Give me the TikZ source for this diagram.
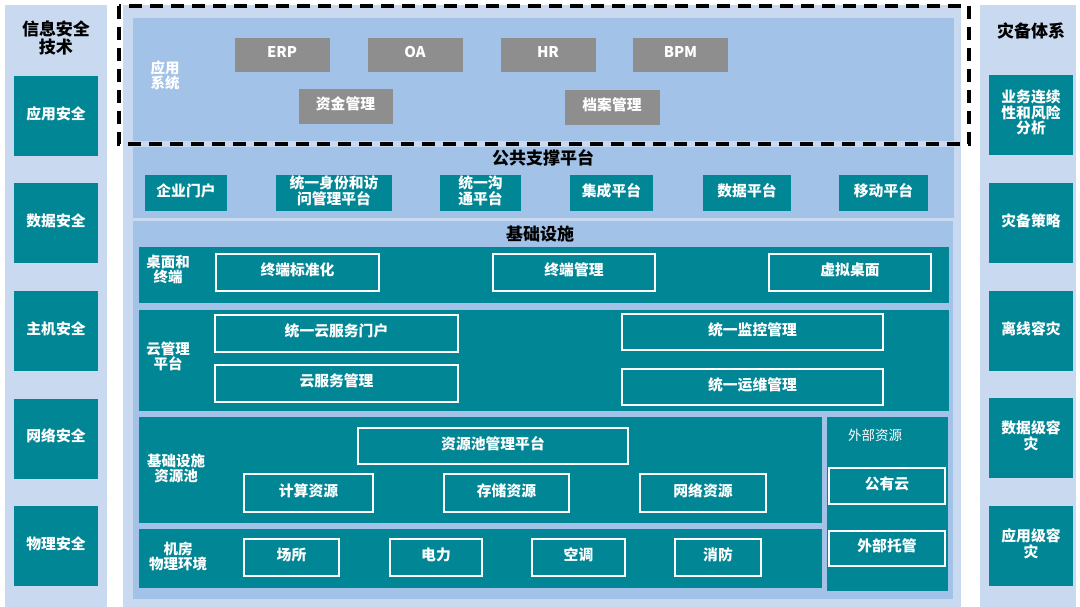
\documentclass[tikz,border=0pt]{standalone}
\usepackage{fontspec}
\setmainfont{Noto Sans CJK SC}
\usepackage{tikz}
\definecolor{panellight}{RGB}{201,218,240}
\definecolor{panelmid}{RGB}{162,194,231}
\definecolor{tealfill}{RGB}{0,134,148}
\definecolor{grayfill}{RGB}{142,142,142}
\tikzset{
  lightpanel/.style={fill=panellight, draw=none},
  midpanel/.style={fill=panelmid, draw=none},
  tealrow/.style={fill=tealfill, draw=none},
  tealbox/.style={fill=tealfill, draw=none, text=white, align=center, inner sep=0pt, text depth=6pt,
    font=\fontsize{14.8}{15.5}\selectfont\bfseries},
  outbox/.style={fill=tealfill, draw=white, line width=1.5pt, text=white, align=center, inner sep=0pt, text depth=6pt,
    font=\fontsize{14.8}{15.5}\selectfont\bfseries},
  graybox/.style={fill=grayfill, draw=panelmid, line width=0.8pt, text=white, inner sep=0pt, text depth=6pt,
    font=\fontsize{14.8}{15.5}\selectfont\bfseries},
  titlelabel/.style={text=black, align=center, inner sep=0pt, font=\fontsize{17}{17.5}\selectfont\bfseries},
  rowlabel/.style={text=white, align=center, inner sep=0pt, font=\fontsize{14.5}{15}\selectfont\bfseries},
  dashframe/.style={draw=black, line width=3.2pt, dash pattern=on 13pt off 8pt},
}

\begin{document}
\begin{tikzpicture}[x=1pt, y=-1pt]
\useasboundingbox (0,0) rectangle (1080,607);
\fill[white] (0,0) rectangle (1080,607);
\fill[lightpanel] (5,5) rectangle (107,607);
\fill[lightpanel] (980,5) rectangle (1076,607);
\fill[lightpanel] (123,5) rectangle (961,607);
\fill[midpanel] (133,18) rectangle (954,141);
\fill[midpanel] (133,147) rectangle (954,218);
\fill[midpanel] (133,221) rectangle (953,599);
\fill[tealrow] (139,247) rectangle (949,303);
\fill[tealrow] (139,310) rectangle (949,411);
\fill[tealrow] (139,417) rectangle (822,523);
\fill[tealrow] (827,417) rectangle (948,591);
\fill[tealrow] (139,529) rectangle (822,588);
\draw[dashframe] (119,6) rectangle (969,144);
\node[titlelabel] (sectitle) at (56,38) {信息安全\\技术};
\node[tealbox, minimum width=84, minimum height=80] (appsec) at (56,116) {应用安全};
\node[tealbox, minimum width=84, minimum height=80] (datasec) at (56,223) {数据安全};
\node[tealbox, minimum width=84, minimum height=80] (hostsec) at (56,331) {主机安全};
\node[tealbox, minimum width=84, minimum height=80] (netsec) at (56,438.5) {网络安全};
\node[tealbox, minimum width=84, minimum height=80] (physsec) at (56,546) {物理安全};
\node[titlelabel] (drtitle) at (1031,31) {灾备体系};
\node[tealbox, minimum width=84, minimum height=80] (bizcont) at (1031,115) {业务连续\\性和风险\\分析};
\node[tealbox, minimum width=84, minimum height=80] (drpolicy) at (1031,223) {灾备策略};
\node[tealbox, minimum width=84, minimum height=80] (offline) at (1031,331) {离线容灾};
\node[tealbox, minimum width=84, minimum height=80] (datadr) at (1031,438) {数据级容\\灾};
\node[tealbox, minimum width=84, minimum height=80] (appdr) at (1031,546) {应用级容\\灾};
\node[rowlabel] (applabel) at (165,75) {应用\\系统};
\node[graybox, minimum width=96, minimum height=35] (erp) at (282,54.5) {ERP};
\node[graybox, minimum width=96, minimum height=35] (oa) at (415,54.5) {OA};
\node[graybox, minimum width=96, minimum height=35] (hr) at (548,54.5) {HR};
\node[graybox, minimum width=96, minimum height=35] (bpm) at (680.5,54.5) {BPM};
\node[graybox, minimum width=95, minimum height=36] (fund) at (345.5,106) {资金管理};
\node[graybox, minimum width=96, minimum height=36] (archive) at (612,107) {档案管理};
\node[titlelabel] (pubtitle) at (543,158) {公共支撑平台};
\node[tealbox, minimum width=82, minimum height=36] (portal) at (186,193) {企业门户};
\node[tealbox, minimum width=116, minimum height=36] (iam) at (334,193) {统一身份和访\\问管理平台};
\node[tealbox, minimum width=81, minimum height=36] (comm) at (480.5,193) {统一沟\\通平台};
\node[tealbox, minimum width=83, minimum height=36] (integ) at (611.5,193) {集成平台};
\node[tealbox, minimum width=88, minimum height=36] (dataplat) at (747,193) {数据平台};
\node[tealbox, minimum width=89, minimum height=36] (mobile) at (883.5,193) {移动平台};
\node[titlelabel] (infratitle) at (540,234) {基础设施};
\node[rowlabel] (desklabel) at (168,270) {桌面和\\终端};
\node[outbox, minimum width=163, minimum height=37] (termstd) at (297.5,272.5) {终端标准化};
\node[outbox, minimum width=162, minimum height=37] (termmgmt) at (574,272.5) {终端管理};
\node[outbox, minimum width=162, minimum height=37] (vdesk) at (850,272.5) {虚拟桌面};
\node[rowlabel] (cloudlabel) at (168,356) {云管理\\平台};
\node[outbox, minimum width=243, minimum height=37] (cloudportal) at (336.5,333.5) {统一云服务门户};
\node[outbox, minimum width=243, minimum height=37] (cloudsvc) at (336.5,383.5) {云服务管理};
\node[outbox, minimum width=261, minimum height=36] (monitor) at (752.5,332) {统一监控管理};
\node[outbox, minimum width=261, minimum height=36] (ops) at (752.5,387) {统一运维管理};
\node[rowlabel] (poollabel) at (176,468) {基础设施\\资源池};
\node[outbox, minimum width=270, minimum height=36] (poolmgmt) at (493,446) {资源池管理平台};
\node[outbox, minimum width=129, minimum height=38] (compute) at (308.5,493) {计算资源};
\node[outbox, minimum width=125, minimum height=38] (storage) at (506.5,493) {存储资源};
\node[outbox, minimum width=126, minimum height=38] (network) at (703,493) {网络资源};
\node[text=white, inner sep=0pt, font=\fontsize{13.5}{14}\selectfont] (extlabel) at (875,435) {外部资源};
\node[outbox, minimum width=116, minimum height=36] (pubcloud) at (887,486) {公有云};
\node[outbox, minimum width=116, minimum height=35] (hosting) at (887,548.5) {外部托管};
\node[rowlabel] (roomlabel) at (178,556) {机房\\物理环境};
\node[outbox, minimum width=95, minimum height=37] (site) at (291.5,557.5) {场所};
\node[outbox, minimum width=92, minimum height=37] (power) at (436,557.5) {电力};
\node[outbox, minimum width=93, minimum height=37] (aircon) at (578.5,557.5) {空调};
\node[outbox, minimum width=86, minimum height=37] (fire) at (718,557.5) {消防};
\end{tikzpicture}
\end{document}
